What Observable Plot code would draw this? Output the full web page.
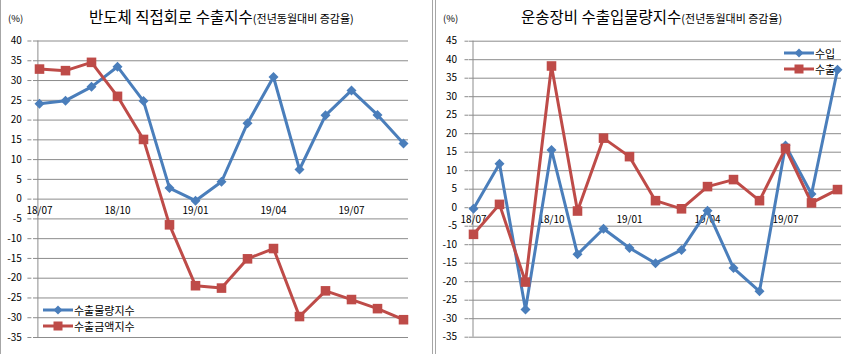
<!DOCTYPE html>
<html><head><meta charset="utf-8">
<script src="https://cdn.jsdelivr.net/npm/d3@7"></script>
<script src="https://cdn.jsdelivr.net/npm/@observablehq/plot@0.6"></script>
<style>
html,body{margin:0;padding:0;background:#fff;}
#wrap{position:relative;width:864px;height:354px;overflow:hidden;font-family:"Noto Sans CJK KR","Noto Sans",sans-serif;}
.pn{position:absolute;top:0;width:432px;height:354px;}
.title{position:absolute;top:6px;white-space:nowrap;color:#000;font-size:15.5px;line-height:20px;}
.title small{font-size:11px;}
.pct{position:absolute;top:11px;font-size:9.5px;color:#000;}
.vline{position:absolute;top:0;width:1px;height:354px;background:#a6a6a6;}
.leg{position:absolute;font-size:11px;color:#000;line-height:16px;}
.leg div{display:flex;align-items:center;height:16px;}
.leg svg{margin-right:1px;}
</style></head>
<body><div id="wrap"></div>
<script>
const months = ["18/07","18/08","18/09","18/10","18/11","18/12","19/01","19/02","19/03","19/04","19/05","19/06","19/07","19/08","19/09"];
const xTickLabels = ["18/07","18/10","19/01","19/04","19/07"];

// Left: 반도체 직접회로 수출지수
const leftSeriesNames = ["수출물량지수","수출금액지수"];
const semiExportVolume = [24.1,24.9,28.4,33.5,24.8,2.8,-0.4,4.4,19.2,30.9,7.5,21.2,27.5,21.3,14.1];
const semiExportValue = [32.9,32.5,34.6,26.0,15.1,-6.5,-21.9,-22.5,-15.1,-12.5,-29.7,-23.2,-25.4,-27.7,-30.5];
const leftYTicks = [-35,-30,-25,-20,-15,-10,-5,0,5,10,15,20,25,30,35,40];

// Right: 운송장비 수출입물량지수
const rightSeriesNames = ["수입","수출"];
const transImport = [-0.3,11.9,-27.5,15.6,-12.6,-5.7,-10.9,-15.0,-11.4,-0.8,-16.3,-22.6,16.8,3.7,37.3];
const transExport = [-7.2,0.9,-20.1,38.3,-0.9,18.8,13.8,1.9,-0.3,5.7,7.6,1.9,16.0,1.3,4.9];
const rightYTicks = [-35,-30,-25,-20,-15,-10,-5,0,5,10,15,20,25,30,35,40,45];

const BLUE = "#4a7ebb", RED = "#be4b48", GRID = "#8c8c8c";

const diamondSym = {draw(ctx, size){const r = Math.sqrt(size/Math.PI); ctx.moveTo(0,-r); ctx.lineTo(r,0); ctx.lineTo(0,r); ctx.lineTo(-r,0); ctx.closePath();}};
const squareSym = {draw(ctx, size){const r = Math.sqrt(size/Math.PI)*0.92; ctx.rect(-r,-r,2*r,2*r);}};

function rows(values){ return values.map((v,i)=>({month: months[i], value: v})); }

function panel({s1, s2, yTicks, marginLeft, marginRight, marginTop, marginBottom, padding, tickPadding, axisDx}){
  const a = rows(s1), b = rows(s2);
  return Plot.plot({
    width: 432, height: 354,
    marginLeft, marginRight, marginTop, marginBottom,
    style: {fontFamily: '"Noto Sans CJK KR","Noto Sans",sans-serif', fontSize: "10px", color: "#000", background: "#fff"},
    x: {type: "point", domain: months, padding, axis: null},
    y: {domain: [yTicks[0], yTicks[yTicks.length-1]], axis: null, label: null},
    marks: [
      Plot.ruleY(yTicks, {stroke: GRID, strokeWidth: 1}),
      Plot.ruleX([months[0]], {dx: axisDx, stroke: GRID, strokeWidth: 1}),
      Plot.axisY({ticks: yTicks, label: null, tickSize: 4, tickPadding, tickFormat: d => String(d), stroke: GRID, fill: "#000", fontSize: 10, dx: axisDx}),
      Plot.text(xTickLabels, {x: d => d, y: () => 0, dy: 12, fontSize: 10, fill: "#000"}),
      Plot.line(a, {x: "month", y: "value", stroke: BLUE, strokeWidth: 3, strokeLinejoin: "round"}),
      Plot.dot(a, {x: "month", y: "value", symbol: diamondSym, r: 5, fill: BLUE, stroke: null}),
      Plot.line(b, {x: "month", y: "value", stroke: RED, strokeWidth: 3, strokeLinejoin: "round"}),
      Plot.dot(b, {x: "month", y: "value", symbol: squareSym, r: 5.2, fill: RED, stroke: null})
    ]
  });
}

function legendRow(name, color, sym){
  const mk = sym === "d"
    ? `<path d="M15,-4.5 L19.5,0 L15,4.5 L10.5,0Z" fill="${color}" transform="translate(0,8)"/>`
    : `<rect x="10.5" y="3.5" width="9" height="9" fill="${color}"/>`;
  return `<div><svg width="30" height="16"><line x1="0" x2="30" y1="8" y2="8" stroke="${color}" stroke-width="3"/>${mk}</svg><span>${name}</span></div>`;
}

const wrap = document.getElementById("wrap");

// Left panel
const L = document.createElement("div"); L.className = "pn"; L.style.left = "0px";
L.appendChild(panel({s1: semiExportVolume, s2: semiExportValue, yTicks: leftYTicks,
  marginLeft: 33, marginRight: 24, marginTop: 40.5, marginBottom: 17, padding: 0.06, tickPadding: 6, axisDx: -1.6}));
wrap.appendChild(L);

// Right panel
const R = document.createElement("div"); R.className = "pn"; R.style.left = "432px";
R.appendChild(panel({s1: transImport, s2: transExport, yTicks: rightYTicks,
  marginLeft: 37, marginRight: 23, marginTop: 40.7, marginBottom: 17.3, padding: 0.02, tickPadding: 8, axisDx: -0.5}));
wrap.appendChild(R);

// titles
wrap.insertAdjacentHTML("beforeend", `
<div class="pct" style="left:8px">(%)</div>
<div class="title" style="left:89px">반도체 직접회로 수출지수<small>(전년동월대비 증감율)</small></div>
<div class="pct" style="left:443px">(%)</div>
<div class="title" style="left:521px">운송장비 수출입물량지수<small>(전년동월대비 증감율)</small></div>
<div class="leg" style="left:43px;top:302px">${legendRow(leftSeriesNames[0], BLUE, "d")}${legendRow(leftSeriesNames[1], RED, "s")}</div>
<div class="leg" style="left:784px;top:45px">${legendRow(rightSeriesNames[0], BLUE, "d")}${legendRow(rightSeriesNames[1], RED, "s")}</div>
<div class="vline" style="left:0px"></div>
<div class="vline" style="left:432px"></div>
<div class="vline" style="left:435px"></div>
`);
</script></body></html>
